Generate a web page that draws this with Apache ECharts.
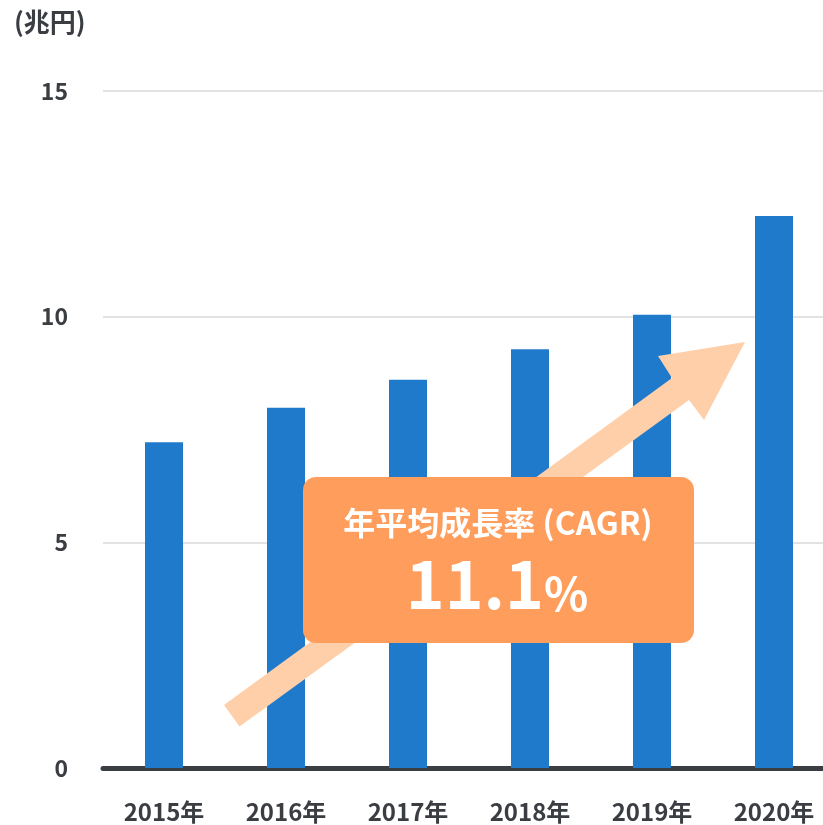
<!DOCTYPE html>
<html>
<head>
<meta charset="utf-8">
<script src="https://cdn.jsdelivr.net/npm/echarts@6/dist/echarts.min.js"></script>
<style>
  html, body { margin: 0; padding: 0; background: #ffffff; }
  #chart { width: 823px; height: 825px; }
</style>
</head>
<body>
<div id="chart"></div>
<script>
// Market size by year (trillion yen)
const years = ['2015年', '2016年', '2017年', '2018年', '2019年', '2020年'];
const marketSize = [7.22, 7.98, 8.6, 9.28, 10.04, 12.23];
const yTicks = [0, 5, 10, 15];
const unitLabel = '(兆円)';
const cagrTitle = '年平均成長率 (CAGR)';
const cagrValue = '11.1';

const FONT = '"Noto Sans CJK JP", "Noto Sans", sans-serif';
const TEXT = '#3a3d42';
const yMin = yTicks[0];
const yMax = yTicks[yTicks.length - 1];
const yStep = yTicks[1] - yTicks[0];

const chart = echarts.init(document.getElementById('chart'), null, { renderer: 'canvas' });

chart.setOption({
  animation: false,
  backgroundColor: '#ffffff',
  grid: [
    // frame: gridlines, value labels and baseline
    { left: 103, top: 91, right: 0, height: 677, containLabel: false },
    // bars: category centres spread edge to edge
    { left: 164, top: 91, right: 49, height: 677, containLabel: false }
  ],
  xAxis: [
    {
      gridIndex: 0,
      type: 'value', min: 0, max: 1,
      axisLine: { show: true, onZero: false, lineStyle: { color: TEXT, width: 5 } },
      axisTick: { show: false },
      axisLabel: { show: false },
      splitLine: { show: false }
    },
    {
      gridIndex: 1,
      type: 'category',
      data: years,
      boundaryGap: false,
      axisLine: { show: false },
      axisTick: { show: false },
      splitLine: { show: false },
      axisLabel: { color: TEXT, fontFamily: FONT, fontWeight: 'bold', fontSize: 24, margin: 32 }
    }
  ],
  yAxis: [
    {
      gridIndex: 0,
      type: 'value', min: yMin, max: yMax, interval: yStep,
      axisLine: { show: false },
      axisTick: { show: false },
      splitLine: { lineStyle: { color: '#e3e3e3', width: 2 } },
      axisLabel: { color: TEXT, fontFamily: FONT, fontWeight: 'bold', fontSize: 23, margin: 35 }
    },
    {
      gridIndex: 1,
      type: 'value', min: yMin, max: yMax, interval: yStep,
      axisLine: { show: false },
      axisTick: { show: false },
      splitLine: { show: false },
      axisLabel: { show: false }
    }
  ],
  series: [{
    type: 'bar',
    xAxisIndex: 1,
    yAxisIndex: 1,
    data: marketSize,
    barWidth: 38,
    itemStyle: { color: '#1f7acc' }
  }],
  graphic: [
    {
      type: 'text',
      left: 14, top: 9,
      style: { text: unitLabel, fill: TEXT, font: 'bold 26px ' + FONT }
    },
    {
      // growth arrow
      type: 'polygon',
      z: 10,
      shape: {
        points: [[224, 705], [672, 378], [658, 356], [745, 342], [704, 420], [689, 400], [239.5, 726.5]]
      },
      style: { fill: '#ffcfaa' }
    },
    {
      type: 'rect',
      z: 11,
      shape: { x: 303, y: 477, width: 391, height: 166, r: 13 },
      style: { fill: '#fe9d5c' }
    },
    {
      type: 'text',
      z: 12,
      x: 498, y: 523,
      style: {
        text: cagrTitle, fill: '#ffffff', font: 'bold 32px ' + FONT,
        align: 'center', verticalAlign: 'middle'
      }
    },
    {
      type: 'text',
      z: 12,
      x: 497, y: 617,
      style: {
        text: '{n|' + cagrValue + '}{p|%}',
        align: 'center', verticalAlign: 'bottom',
        rich: {
          n: { fill: '#ffffff', font: 'bold 66px ' + FONT, verticalAlign: 'bottom' },
          p: { fill: '#ffffff', font: 'bold 46px ' + FONT, verticalAlign: 'bottom' }
        }
      }
    }
  ]
});
</script>
</body>
</html>
